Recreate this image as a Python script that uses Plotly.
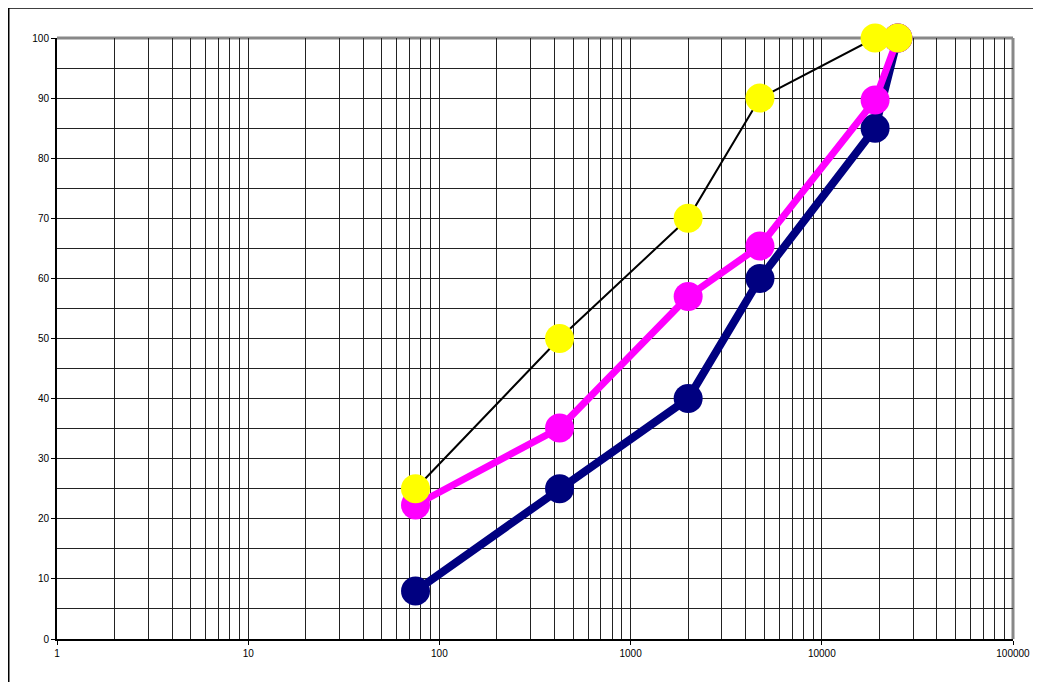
import plotly.graph_objects as go

sieve = [75, 425, 2000, 4750, 19000, 25000]
blue_vals = [8, 25, 40, 60, 85, 100]
magenta_vals = [22.3, 35.1, 57, 65.4, 89.7, 100]
yellow_vals = [25, 50, 70, 90, 100, 100]
x_tick_vals = [1, 10, 100, 1000, 10000, 100000]
x_tick_text = ["1", "10", "100", "1000", "10000", "100000"]

fig = go.Figure()
fig.add_trace(go.Scatter(
    x=sieve, y=blue_vals, mode="lines+markers",
    line=dict(color="#000080", width=8),
    marker=dict(color="#000080", size=29), showlegend=False, cliponaxis=False))
fig.add_trace(go.Scatter(
    x=sieve, y=magenta_vals, mode="lines+markers",
    line=dict(color="#FF00FF", width=7),
    marker=dict(color="#FF00FF", size=29), showlegend=False, cliponaxis=False))
fig.add_trace(go.Scatter(
    x=sieve, y=yellow_vals, mode="lines+markers",
    line=dict(color="#000000", width=2),
    marker=dict(color="#FFFF00", size=29), showlegend=False, cliponaxis=False))

# page has an 8px body offset
W, H = 1041, 682
ml, mr, mt, mb = 49, 36, 30, 51
pw = W - ml - mr
ph = H - mt - mb

fig.update_layout(
    width=W, height=H,
    margin=dict(l=ml, r=mr, t=mt, b=mb),
    paper_bgcolor="white", plot_bgcolor="white",
    font=dict(family="Liberation Sans, Arial, sans-serif", size=10, color="black"),
)
fig.update_xaxes(
    type="log", range=[0, 5],
    tickvals=x_tick_vals, ticktext=x_tick_text,
    showgrid=True, gridcolor="#222222", gridwidth=1,
    minor=dict(dtick="D1", showgrid=True, gridcolor="#222222", gridwidth=1, ticks=""),
    showline=True, linecolor="black", linewidth=2,
    ticks="outside", ticklen=4, tickcolor="black",
    zeroline=False,
)
fig.update_yaxes(
    range=[0, 100], dtick=10,
    showgrid=True, gridcolor="#222222", gridwidth=1,
    minor=dict(dtick=5, showgrid=True, gridcolor="#222222", gridwidth=1, ticks=""),
    showline=True, linecolor="black", linewidth=2,
    ticks="outside", ticklen=4, tickcolor="black",
    zeroline=False,
)

# plot area top/right gray border
fig.add_shape(type="line", xref="paper", yref="paper", x0=0, x1=1, y0=1, y1=1,
              line=dict(color="#888888", width=3), layer="below")
fig.add_shape(type="line", xref="paper", yref="paper", x0=1, x1=1, y0=0, y1=1,
              line=dict(color="#888888", width=3), layer="below")
# outer chart frame (left and top visible)
fx = (0.75 - ml) / pw
fy = (H - mb - 0.0) / ph
fig.add_shape(type="line", xref="paper", yref="paper",
              x0=fx, x1=(W + 10 - ml) / pw, y0=fy, y1=fy,
              line=dict(color="black", width=1.5))
fig.add_shape(type="line", xref="paper", yref="paper",
              x0=fx, x1=fx, y0=-(mb + 10) / ph, y1=fy,
              line=dict(color="black", width=1.5))

fig.write_html("out.html")
